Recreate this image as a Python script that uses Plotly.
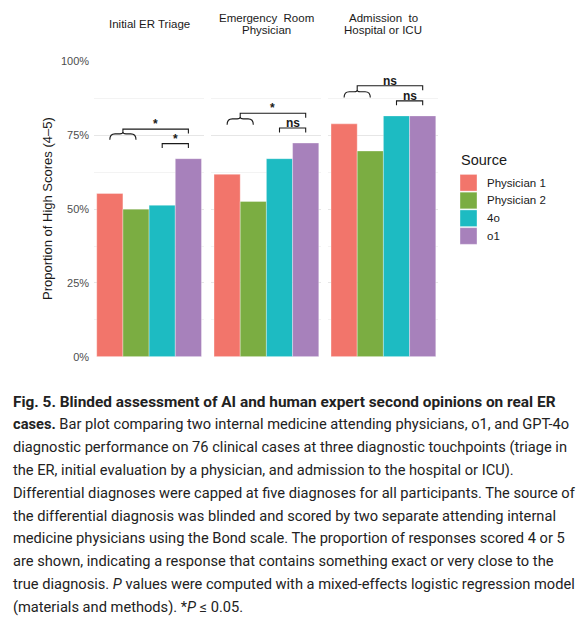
import plotly.graph_objects as go

W, H = 586, 626

# data: proportion of responses scored 4-5 (76 cases)
stages = ["Initial ER Triage", "Emergency\u00a0 Room<br>Physician", "Admission\u00a0 to<br>Hospital or ICU"]
sources = ["Physician 1", "Physician 2", "4o", "o1"]
physician1 = [0.553, 0.618, 0.789]
physician2 = [0.500, 0.526, 0.697]
gpt_4o = [0.513, 0.671, 0.816]
o1 = [0.671, 0.724, 0.816]
sig_physicians_vs_o1 = ["*", "*", "ns"]
sig_4o_vs_o1 = ["*", "ns", "ns"]

COLORS = ["#F2756B", "#7BAD42", "#1DBBC2", "#A781BB"]
INK = "#1A1A1A"
FONT = "Liberation Sans, Arial, sans-serif"
CAPTION_FONT = "Roboto, Liberation Sans, sans-serif"

caption_lines = [
    "<b>Fig. 5. Blinded assessment of AI and human expert second opinions on real ER</b>",
    "<b>cases.</b> Bar plot comparing two internal medicine attending physicians, o1, and GPT-4o",
    "diagnostic performance on 76 clinical cases at three diagnostic touchpoints (triage in",
    "the ER, initial evaluation by a physician, and admission to the hospital or ICU).",
    "Differential diagnoses were capped at five diagnoses for all participants. The source of",
    "the differential diagnosis was blinded and scored by two separate attending internal",
    "medicine physicians using the Bond scale. The proportion of responses scored 4 or 5",
    "are shown, indicating a response that contains something exact or very close to the",
    "true diagnosis. <i>P</i> values were computed with a mixed-effects logistic regression model",
    "(materials and methods). *<i>P</i> \u2264 0.05.",
]

# bracket heights per panel (brace top, long bracket, short bracket)
bracket_y = [(0.755, 0.771, 0.722), (0.806, 0.825, 0.775), (0.898, 0.918, 0.867)]


def px_x(p):
    return p / W


def px_y(p):
    return 1 - p / H


series = [physician1, physician2, gpt_4o, o1]
panel_left = [94.1, 211.4, 328.4]
panel_w = 110.0

fig = go.Figure()
layout = {}
shapes = []
annotations = []

for p, stage in enumerate(stages):
    sfx = "" if p == 0 else str(p + 1)
    xa, ya = "x" + sfx, "y" + sfx
    for i, src in enumerate(sources):
        fig.add_trace(go.Bar(
            x=[i], y=[series[i][p]], width=1, name=src,
            marker=dict(color=COLORS[i], line=dict(color="rgba(255,255,255,0.55)", width=0.6)),
            xaxis=xa, yaxis=ya, showlegend=False,
        ))
    left = panel_left[p]
    layout["xaxis" + sfx] = dict(
        domain=[px_x(left), px_x(left + panel_w)], range=[-0.6, 3.6],
        showgrid=False, zeroline=False, showticklabels=False, ticks="", anchor=ya,
    )
    layout["yaxis" + sfx] = dict(
        domain=[px_y(357.5), px_y(56.7)], range=[0, 1.0], anchor=xa,
        tickvals=[0, 0.25, 0.5, 0.75, 1.0], tickformat=".0%",
        showticklabels=(p == 0), gridcolor="#E6E6E6", gridwidth=1,
        minor=dict(dtick=0.125, tick0=0, showgrid=True, gridcolor="#F3F3F3", gridwidth=0.7),
        zeroline=False, ticks="", tickfont=dict(size=11, color="#4D4D4D", family=FONT),
        ticklabelstandoff=4,
    )

    # facet strip title
    cx = px_x(left + panel_w / 2)
    lines = stage.split("<br>")
    ys = [18.3] if len(lines) == 1 else [12.3, 24.3]
    for txt, yy in zip(lines, ys):
        annotations.append(dict(
            x=cx, y=px_y(yy), xref="paper", yref="paper", text=txt, showarrow=False,
            xanchor="center", yanchor="middle", font=dict(size=11.5, color=INK, family=FONT),
        ))

    # significance brackets
    bt, by, sy = bracket_y[p]
    ye, yp = bt - 0.02, bt + 0.006
    brace = (f"M 0,{ye} Q 0,{bt} 0.2,{bt} L 0.38,{bt} Q 0.5,{bt} 0.5,{yp} "
             f"Q 0.5,{bt} 0.62,{bt} L 0.8,{bt} Q 1,{bt} 1,{ye}")
    long_br = f"M 0.5,{yp} L 0.5,{by} L 3,{by} L 3,{by - 0.015}"
    short_br = f"M 2,{sy - 0.015} L 2,{sy} L 3,{sy} L 3,{sy - 0.015}"
    for path in (brace, long_br, short_br):
        shapes.append(dict(type="path", path=path, xref=xa, yref=ya,
                           line=dict(color=INK, width=1.1)))
    for xx, yy, lab in ((1.75, by, sig_physicians_vs_o1[p]), (2.5, sy, sig_4o_vs_o1[p])):
        annotations.append(dict(
            x=xx, y=yy + 0.017, xref=xa, yref=ya, text=f"<b>{lab}</b>", showarrow=False,
            xanchor="center", yanchor="middle", font=dict(size=12, color=INK, family=FONT),
        ))

# y-axis title
annotations.append(dict(
    x=px_x(47), y=px_y(207), xref="paper", yref="paper", text="Proportion of High Scores (4\u20135)",
    textangle=-90, showarrow=False, xanchor="center", yanchor="middle",
    font=dict(size=13, color=INK, family=FONT),
))

# legend drawn by hand to match the square keys
annotations.append(dict(
    x=px_x(459), y=px_y(157.3), xref="paper", yref="paper", text="Source", showarrow=False,
    xanchor="left", yanchor="middle", font=dict(size=14.5, color=INK, family=FONT),
))
for i, src in enumerate(sources):
    top = 171.7 + i * 18.1
    shapes.append(dict(type="rect", xref="paper", yref="paper",
                       x0=px_x(460), x1=px_x(477), y0=px_y(top + 17), y1=px_y(top),
                       fillcolor=COLORS[i], line=dict(color="rgba(255,255,255,0.6)", width=0.6)))
    annotations.append(dict(
        x=px_x(485), y=px_y(top + 8.5), xref="paper", yref="paper", text=src, showarrow=False,
        xanchor="left", yanchor="middle", font=dict(size=11.5, color=INK, family=FONT),
    ))

# caption
for k, line in enumerate(caption_lines):
    size = 15.4 if k == 0 else 14.65
    annotations.append(dict(
        x=px_x(11), y=px_y(403.3 + k * 23.25), xref="paper", yref="paper", text=line,
        showarrow=False, xanchor="left", yanchor="middle",
        font=dict(size=size, color="#222222", family=CAPTION_FONT),
    ))

fig.update_layout(
    **layout,
    width=W, height=H, margin=dict(l=0, r=0, t=0, b=0),
    plot_bgcolor="white", paper_bgcolor="white",
    barmode="overlay", showlegend=False,
    shapes=shapes, annotations=annotations,
    font=dict(family=FONT, color=INK),
)

fig.write_html("out.html", config={"displayModeBar": False},
               post_script="document.body.style.margin='0px';")
